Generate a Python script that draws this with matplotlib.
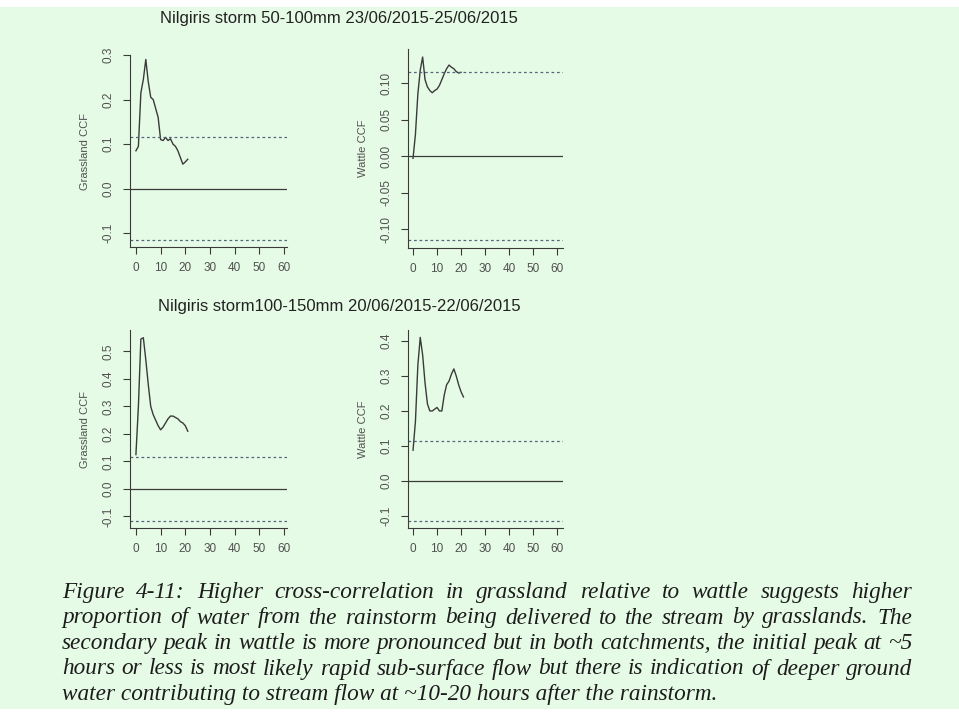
"""
Figure 4-11: grassland vs wattle cross-correlation, Nilgiris storms
"""

import matplotlib
matplotlib.use('Agg')
from matplotlib import pyplot as plt
from matplotlib.patches import Rectangle

plt.rcParams['font.family'] = ['Liberation Sans', 'DejaVu Sans']
plt.rcParams['axes.unicode_minus'] = False

W, H = 959, 716

# lag (hours) and CCF values
lags_storm1_grass = list(range(22))
ccf_storm1_grass = [0.085, 0.095, 0.215, 0.245, 0.29, 0.24, 0.205, 0.2, 0.18, 0.16, 0.11,
                    0.108, 0.115, 0.108, 0.112, 0.1, 0.095, 0.085, 0.07, 0.055, 0.06, 0.066]
lags_storm1_wattle = list(range(21))
ccf_storm1_wattle = [-0.003, 0.03, 0.085, 0.118, 0.136, 0.105, 0.095, 0.09, 0.087, 0.09, 0.092,
                     0.097, 0.105, 0.113, 0.12, 0.125, 0.122, 0.12, 0.116, 0.114, 0.115]
lags_storm2_grass = list(range(22))
ccf_storm2_grass = [0.125, 0.30, 0.545, 0.55, 0.47, 0.38, 0.30, 0.27, 0.25, 0.23, 0.215,
                    0.225, 0.24, 0.255, 0.265, 0.265, 0.26, 0.255, 0.245, 0.24, 0.23, 0.21]
lags_storm2_wattle = list(range(22))
ccf_storm2_wattle = [0.088, 0.17, 0.33, 0.41, 0.36, 0.28, 0.22, 0.2, 0.2, 0.205, 0.21,
                     0.2, 0.2, 0.245, 0.275, 0.285, 0.305, 0.32, 0.3, 0.275, 0.255, 0.24]
conf_limit = 0.115

x_ticks = [0, 10, 20, 30, 40, 50, 60]
titles = ['Nilgiris storm 50-100mm 23/06/2015-25/06/2015',
          'Nilgiris storm100-150mm 20/06/2015-22/06/2015']
caption_lines = [
    'Figure 4-11: Higher cross-correlation in grassland relative to wattle suggests higher',
    'proportion of water from the rainstorm being delivered to the stream by grasslands. The',
    'secondary peak in wattle is more pronounced but in both catchments, the initial peak at ~5',
    'hours or less is most likely rapid sub-surface flow but there is indication of deeper ground',
    'water contributing to stream flow at ~10-20 hours after the rainstorm.',
]

fig = plt.figure(figsize=(W / 100, H / 100), dpi=100)
fig.patch.set_facecolor('white')
fig.patches.append(Rectangle((0, 7 / H), 1, (709 - 7) / H, transform=fig.transFigure,
                             facecolor='#e6fbe6', edgecolor='none', zorder=-10))

LINE = '#3a3a3a'


def panel(box, xlim, ylim, yticks, ylabel, lags, vals, fmt):
    left, top, right, bottom = box
    ax = fig.add_axes([left / W, 1 - bottom / H, (right - left) / W, (bottom - top) / H])
    ax.patch.set_alpha(0)
    ax.plot(lags, vals, color=LINE, lw=1.0)
    ax.axhline(0, color=LINE, lw=0.9)
    for c in (conf_limit, -conf_limit):
        ax.axhline(c, color='#55657a', lw=0.9, ls=(0, (2.2, 2.2)))
    ax.set_xlim(*xlim)
    ax.set_ylim(*ylim)
    ax.set_xticks(x_ticks)
    ax.set_yticks(yticks)
    ax.set_yticklabels([fmt.format(v) for v in yticks], rotation=90, va='center')
    for s in ('top', 'right'):
        ax.spines[s].set_visible(False)
    for s in ('left', 'bottom'):
        ax.spines[s].set_color(LINE)
        ax.spines[s].set_linewidth(0.8)
    ax.tick_params(colors=LINE, labelcolor='#505050', labelsize=8.5, length=5, width=0.8, pad=6)
    ax.set_ylabel(ylabel, fontsize=8, color='#505050', labelpad=9)
    return ax


panel((130, 55, 287, 247), (-2.4, 61.2), (-0.131, 0.30), [-0.1, 0.0, 0.1, 0.2, 0.3],
      'Grassland CCF', lags_storm1_grass, ccf_storm1_grass, '{:.1f}')
panel((408, 49, 563, 248), (-2.1, 62.5), (-0.126, 0.147), [-0.10, -0.05, 0.0, 0.05, 0.10],
      'Wattle CCF', lags_storm1_wattle, ccf_storm1_wattle, '{:.2f}')
panel((130, 330, 287, 528), (-2.4, 61.2), (-0.142, 0.578), [-0.1, 0.0, 0.1, 0.2, 0.3, 0.4, 0.5],
      'Grassland CCF', lags_storm2_grass, ccf_storm2_grass, '{:.1f}')
panel((408, 330, 563, 528), (-2.1, 62.5), (-0.134, 0.431), [-0.1, 0.0, 0.1, 0.2, 0.3, 0.4],
      'Wattle CCF', lags_storm2_wattle, ccf_storm2_wattle, '{:.1f}')

fig.text(339 / W, 1 - 18 / H, titles[0], ha='center', va='center', fontsize=12, color='#222222')
fig.text(339 / W, 1 - 307 / H, titles[1], ha='center', va='center', fontsize=12, color='#222222')

# justified italic caption
renderer = fig.canvas.get_renderer()
cap_font = dict(family='Liberation Serif', style='italic', color='#1c1c1c')
probe = fig.text(0, 0, caption_lines[3], fontsize=10, **cap_font)
natural = probe.get_window_extent(renderer).width
probe.remove()
cap_size = 10 * 840 / natural

x0, x1 = 62, 912
baselines = [598, 623.5, 649, 674.5, 700]
for i, (line, yb) in enumerate(zip(caption_lines, baselines)):
    if i == len(caption_lines) - 1:
        fig.text(x0 / W, 1 - yb / H, line, fontsize=cap_size, va='baseline', **cap_font)
        continue
    words = line.split(' ')
    items = [fig.text(0, 1 - yb / H, w, fontsize=cap_size, va='baseline', **cap_font) for w in words]
    widths = [t.get_window_extent(renderer).width for t in items]
    gap = (x1 - x0 - sum(widths)) / (len(words) - 1)
    x = x0
    for t, w in zip(items, widths):
        t.set_x(x / W)
        x += w + gap

fig.savefig('out.png', dpi=100)
